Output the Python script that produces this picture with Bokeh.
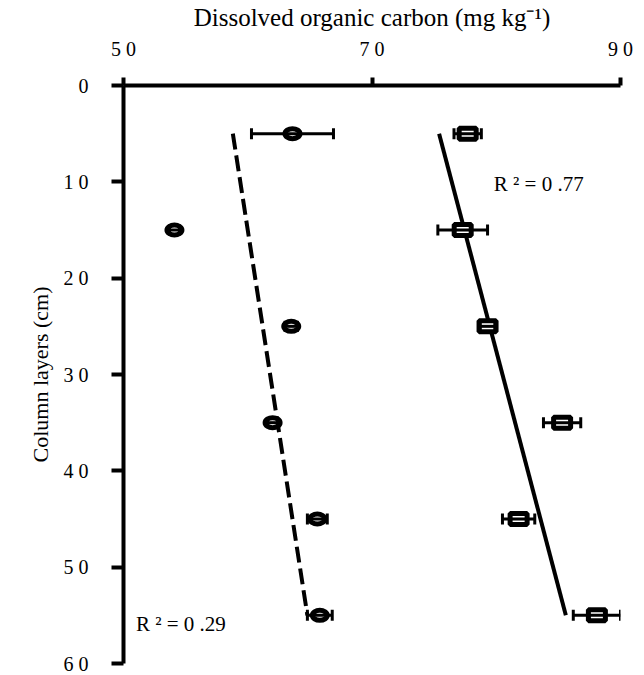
from bokeh.plotting import figure
from bokeh.models import Range1d, FixedTicker, ColumnDataSource, Whisker, TeeHead, Label
from bokeh.embed import file_html
from bokeh.resources import INLINE

# ---- data ----
depth = [5, 15, 25, 35, 45, 55]
doc_circle = [63.6, 54.1, 63.5, 62.0, 65.6, 65.8]
err_circle = [3.3, 0.4, 0.5, 0.4, 0.8, 1.0]
doc_square = [77.7, 77.3, 79.3, 85.3, 81.8, 88.1]
err_square = [1.1, 2.0, 0.6, 1.5, 1.3, 1.9]

trend_depth = [5, 55]
trend_circle = [58.8, 64.8]
trend_square = [75.4, 85.6]

x_ticks = [50, 70, 90]
x_tick_labels = ["5 0", "7 0", "9 0"]
y_ticks = [0, 10, 20, 30, 40, 50, 60]
y_tick_labels = ["0", "1 0", "2 0", "3 0", "4 0", "5 0", "6 0"]

r2_texts = ["R ² =  0 .77", "R ² =  0 .29"]
r2_x = [79.8, 51.0]
r2_y = [10.2, 55.9]

FONT = "Liberation Serif"

p = figure(width=644, height=675, output_backend="svg", toolbar_location=None,
           x_axis_location="above",
           x_range=Range1d(50, 90), y_range=Range1d(60, 0),
           min_border_left=123, min_border_right=24,
           min_border_top=85, min_border_bottom=12)
p.outline_line_color = None
p.grid.visible = False
p.background_fill_color = "white"
p.border_fill_color = "white"

for ax in (p.xaxis[0], p.yaxis[0]):
    ax.axis_line_width = 4
    ax.axis_line_color = "black"
    ax.major_tick_line_width = 4
    ax.major_tick_line_color = "black"
    ax.major_tick_in = 0
    ax.minor_tick_line_color = None
    ax.major_label_text_font = FONT
    ax.major_label_text_font_size = "20px"
    ax.major_label_text_color = "black"
    ax.axis_label_text_font = FONT
    ax.axis_label_text_font_style = "normal"
    ax.axis_label_text_color = "#000000"

p.xaxis.ticker = FixedTicker(ticks=x_ticks)
p.xaxis.major_label_overrides = {t: l for t, l in zip(x_ticks, x_tick_labels)}
p.xaxis.major_tick_out = 8
p.xaxis.major_label_standoff = 18
p.xaxis.axis_label = "Dissolved organic carbon (mg kg⁻¹)"
p.xaxis.axis_label_text_font_size = "25px"
p.xaxis.axis_label_standoff = 4

p.yaxis.ticker = FixedTicker(ticks=y_ticks)
p.yaxis.major_label_overrides = {t: l for t, l in zip(y_ticks, y_tick_labels)}
p.yaxis.major_tick_out = 12
p.yaxis.major_label_standoff = 23
p.yaxis.axis_label = "Column layers (cm)"
p.yaxis.axis_label_text_font_size = "22px"
p.yaxis.axis_label_standoff = 8

# trend lines
p.line(trend_circle, trend_depth, line_color="black", line_width=4, line_dash="16 6")
p.line(trend_square, trend_depth, line_color="black", line_width=4)

src_c = ColumnDataSource(dict(x=doc_circle, y=depth,
                              lo=[v - e for v, e in zip(doc_circle, err_circle)],
                              hi=[v + e for v, e in zip(doc_circle, err_circle)]))
src_s = ColumnDataSource(dict(x=doc_square, y=depth,
                              lo=[v - e for v, e in zip(doc_square, err_square)],
                              hi=[v + e for v, e in zip(doc_square, err_square)]))

p.ellipse(x="x", y="y", width=15, height=10, width_units="screen", height_units="screen",
          source=src_c, fill_color="white", line_color="black", line_width=5)
p.rect(x="x", y="y", width=17, height=11, width_units="screen", height_units="screen",
       source=src_s, fill_color="white", line_color="black", line_width=5)

for src in (src_c, src_s):
    w = Whisker(base="y", lower="lo", upper="hi", dimension="width", source=src,
                line_color="black", line_width=3, level="overlay",
                lower_head=TeeHead(size=11, line_width=3, line_color="black"),
                upper_head=TeeHead(size=11, line_width=3, line_color="black"))
    p.add_layout(w)

for t, x, y in zip(r2_texts, r2_x, r2_y):
    p.add_layout(Label(x=x, y=y, text=t, text_font=FONT, text_font_size="21px",
                       text_color="black", text_baseline="middle", text_align="left"))

open("out.html", "w").write(file_html(p, INLINE))
